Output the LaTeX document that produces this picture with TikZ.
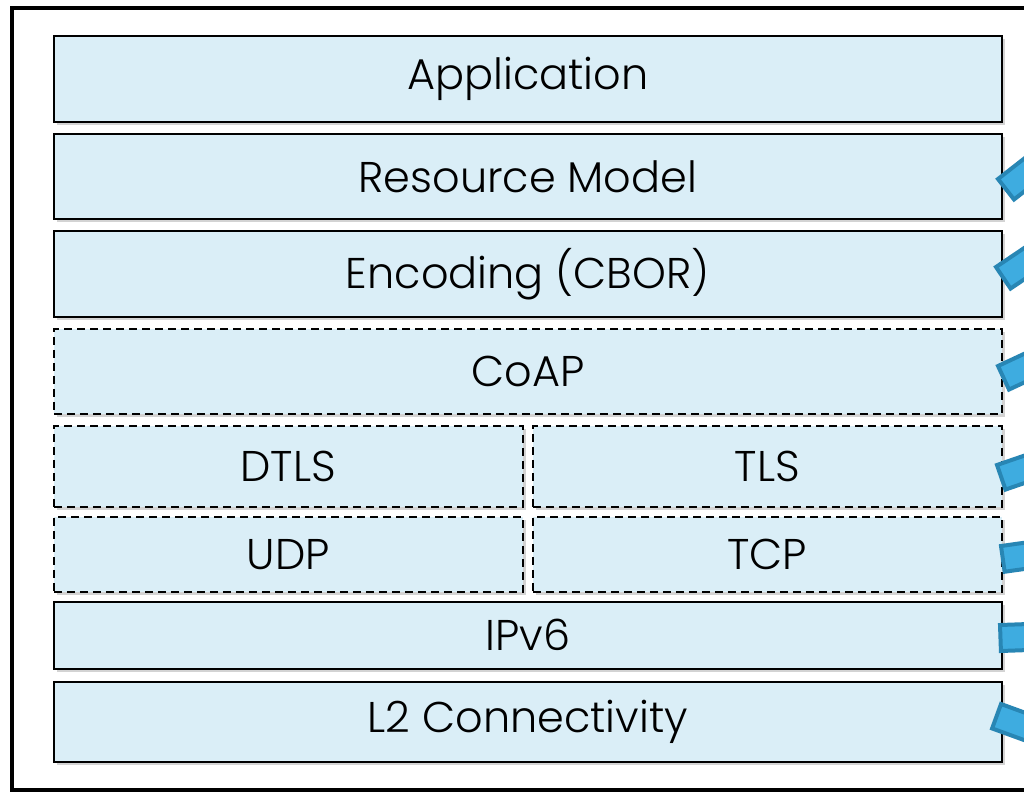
\documentclass[tikz,border=0pt]{standalone}
\usepackage{fontspec}
\setmainfont{Poppins}[UprightFont=* Light]
\usetikzlibrary{shadows}
\definecolor{boxfill}{RGB}{218,238,247}
\definecolor{bandfill}{RGB}{62,172,224}
\definecolor{banddraw}{RGB}{40,134,180}
\tikzset{
  layer/.style={draw=black, line width=1.6pt, fill=boxfill, inner sep=0pt, anchor=north west,
    font=\fontsize{43}{46}\selectfont, text=black,
    drop shadow={opacity=0.35, shadow xshift=3pt, shadow yshift=-3pt, fill=gray}},
  dlayer/.style={layer, dashed, dash pattern=on 8pt off 5pt},
  band/.style={fill=bandfill, draw=banddraw, line width=4pt, line join=miter}
}
\newcommand{\bandat}[3]{%
  \draw[band] (#1,#2) -- ++(90-#3:26) -- ++(-#3:80) -- ++(270-#3:26) -- cycle;}
\begin{document}
\begin{tikzpicture}[x=1pt,y=-1pt]
\useasboundingbox (0,0) rectangle (1024,792);
\clip (0,0) rectangle (1024,792);
\draw[line width=4pt] (12,8) rectangle (1060,790);
\node[layer, minimum width=948pt, minimum height=86pt] (app) at (53,35) {Application};
\node[layer, minimum width=948pt, minimum height=85pt] (rm) at (53,133) {Resource Model};
\node[layer, minimum width=948pt, minimum height=86pt] (enc) at (53,230) {Encoding (CBOR)};
\node[dlayer, minimum width=948pt, minimum height=85pt] (coap) at (53,328) {CoAP};
\node[dlayer, minimum width=469pt, minimum height=81pt] (dtls) at (53,425) {DTLS};
\node[dlayer, minimum width=469pt, minimum height=81pt] (tls) at (532,425) {TLS};
\node[dlayer, minimum width=469pt, minimum height=75pt] (udp) at (53,516) {UDP};
\node[dlayer, minimum width=469pt, minimum height=75pt] (tcp) at (532,516) {TCP};
\node[layer, minimum width=948pt, minimum height=67pt] (ipv6) at (53,601) {IPv6};
\node[layer, minimum width=948pt, minimum height=80pt] (l2) at (53,681) {L2 Connectivity};
\bandat{998}{179}{38}
\bandat{996}{267}{34}
\bandat{998}{366}{25}
\bandat{997}{465}{19}
\bandat{1001}{546}{8}
\bandat{1000}{625}{2}
\bandat{1001}{704}{-20}
\end{tikzpicture}
\end{document}
